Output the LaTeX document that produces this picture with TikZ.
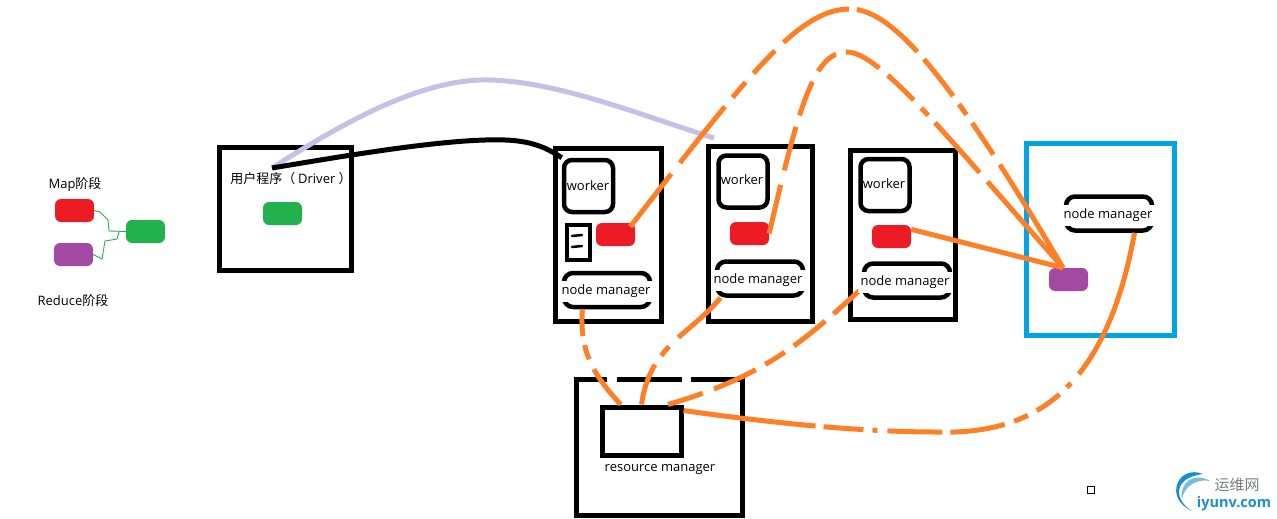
\documentclass[tikz,border=0pt]{standalone}
\usepackage{fontspec}
\setmainfont{Open Sans}
\newfontfamily\cjkfont{Noto Sans CJK SC}
\usetikzlibrary{positioning,calc}
\definecolor{mapred}{RGB}{237,28,36}
\definecolor{reducepurple}{RGB}{163,73,164}
\definecolor{drivergreen}{RGB}{34,177,76}
\definecolor{linkorange}{RGB}{255,127,39}
\definecolor{hostblue}{RGB}{0,162,232}
\definecolor{softlilac}{RGB}{200,191,231}
\definecolor{logoblue}{RGB}{27,143,201}
\definecolor{logogrey}{RGB}{120,125,130}
\tikzset{
    hostbox/.style={draw, rectangle, line width=5pt, inner sep=0pt},
    workerbox/.style={draw, rectangle, rounded corners=8pt, line width=4.5pt, minimum width=49pt, minimum height=52pt, inner sep=0pt},
    nmframe/.style={draw, rectangle, rounded corners=9pt, line width=4.5pt, minimum width=86pt, minimum height=34pt, inner sep=0pt},
    nmlabel/.style={fill=white, inner sep=0pt, minimum width=95pt, minimum height=21pt, font=\fontsize{13}{15}\selectfont},
    plainlabel/.style={inner sep=0pt, font=\fontsize{13}{15}\selectfont},
    task/.style={rectangle, rounded corners=6pt, minimum width=39pt, minimum height=23pt, inner sep=0pt},
    link/.style={linkorange, line width=5pt},
    wire/.style={drivergreen, line width=0.9pt}
}
\begin{document}
\begin{tikzpicture}[x=1pt, y=-1pt]
    \useasboundingbox (0,0) rectangle (1277,519);
    % legend
    \node[plainlabel] (maplabel) at (75,184.5) {Map\cjkfont 阶段};
    \node[task, fill=mapred] (legendmap) at (74.5,210.5) {};
    \node[task, fill=reducepurple] (legendreduce) at (73.5,254.5) {};
    \node[task, fill=drivergreen] (legenddriver) at (145.5,231.5) {};
    \node[plainlabel] (reducelabel) at (73,301) {Reduce\cjkfont 阶段};
    \coordinate (wirejoin) at (119,232);
    \draw[wire] (legendmap.east) -- (100,212) -- (108,220) -- (109,231) -- (legenddriver.west);
    \draw[wire] (legendreduce.east) -- (102,259) -- (105,241) -- (117,239) -- (wirejoin);

    % driver
    \node[hostbox, minimum width=132pt, minimum height=123pt] (driver) at (285,208.5) {};
    \node[plainlabel] (driverlabel) at (291,179) {\cjkfont 用户程序（ \normalfont Driver \cjkfont ）};
    \node[task, fill=drivergreen] (drivertask) at (282.5,213.5) {};
    \coordinate (driverhook) at (272,168);
    \coordinate (lilacend) at (714,138);

    % hosts
    \node[hostbox, minimum width=106pt, minimum height=173pt] (hostA) at (608,235) {};
    \node[hostbox, minimum width=104pt, minimum height=175pt] (hostB) at (760,233.5) {};
    \node[hostbox, minimum width=105pt, minimum height=169pt] (hostC) at (902.5,234.5) {};
    \node[hostbox, draw=hostblue, minimum width=148pt, minimum height=192pt] (hostD) at (1100,239) {};
    \node[workerbox] (workerA) at (588.5,186) {};
    \node[workerbox] (workerB) at (743,181.5) {};
    \node[workerbox] (workerC) at (885,185) {};
    \node[draw, rectangle, line width=4pt, minimum width=23pt, minimum height=35pt, inner sep=0pt] (spill) at (578.5,242.5) {};
    \node[task, fill=mapred] (redA) at (615.5,234.5) {};
    \node[task, fill=mapred] (redB) at (749.5,233.5) {};
    \node[task, fill=mapred] (redC) at (891.5,236.5) {};
    \node[task, fill=reducepurple] (reducetask) at (1068.5,279.5) {};
    \node[nmframe] (nmA) at (607,290) {};
    \node[nmframe] (nmB) at (760,278.5) {};
    \node[nmframe] (nmC) at (907,280.5) {};
    \node[nmframe] (nmD) at (1109,213.5) {};

    % resource manager
    \node[hostbox, minimum width=166pt, minimum height=136pt] (rmhost) at (659,447) {};
    \fill[white] (607,372) rectangle (617,384);
    \fill[white] (682,372) rectangle (691,384);
    \node[hostbox, minimum width=79pt, minimum height=48pt] (rm) at (641.5,431) {};
    \node[plainlabel] (rmlabel) at (660,469.5) {resource manager};

    \draw[line width=2.5pt, line cap=round] (572,236) -- (582,235);
    \draw[line width=2.5pt, line cap=round] (572,247) -- (582,246);

    % driver links
    \draw[softlilac, line width=5pt] (driverhook) .. controls (340,125) and (420,78) .. (490,80) .. controls (560,82) and (640,115) .. (lilacend);
    \draw[black, line width=5pt] (driverhook) .. controls (350,155) and (450,138) .. (505,140) .. controls (535,141) and (550,150) .. (workerA.north west);

    % task links
    \draw[link, dash pattern=on 67pt off 14pt on 72pt off 12pt on 20pt off 12pt on 31pt off 12pt on 75pt off 8pt on 75pt off 10pt on 47pt off 10pt on 13pt off 10pt on 38pt off 12pt on 200pt off 10pt] ([xshift=-5pt,yshift=-4pt]redA.north east) .. controls (753,68) and (800,9) .. (850,9) .. controls (895,9) and (955,85) .. (reducetask.115);
    \draw[link, dash pattern=on 50pt off 15pt on 45pt off 12pt on 36pt off 12pt on 25pt off 10pt on 38pt off 11pt on 36pt off 11pt on 10pt off 10pt on 67pt off 12pt on 200pt off 10pt] (redB.east) .. controls (800,100) and (815,52) .. (847,52) .. controls (880,52) and (950,140) .. (reducetask.115);
    \draw[link] (redC.20) -- (reducetask.115);

    % manager links
    \draw[link, dash pattern=on 27pt off 9pt on 15pt off 11pt on 200pt off 10pt] (nmA.218) .. controls (580,345) and (588,370) .. (rm.128);
    \draw[link, dash pattern=on 58pt off 13pt on 12pt off 11pt on 200pt off 10pt] (nmB.206) .. controls (690,335) and (650,345) .. (rm.north);
    \draw[link, dash pattern=on 38pt off 11pt on 40pt off 11pt on 23pt off 11pt on 46pt off 12pt on 200pt off 10pt] (nmC.190) .. controls (810,335) and (770,375) .. (rm.45);
    \draw[link, dash pattern=on 133pt off 8pt on 40pt off 9pt on 5pt off 10pt on 55pt off 8pt on 55pt off 10pt on 15pt off 10pt on 28pt off 10pt on 6pt off 12pt on 400pt off 10pt] (rm.26) .. controls (800,427) and (880,432) .. (936,432) .. controls (1030,435) and (1105,395) .. (nmD.323);

    % labels on top
    \node[plainlabel] (workerAlabel) at (588,185.5) {worker};
    \node[plainlabel] (workerBlabel) at (742,180) {worker};
    \node[plainlabel] (workerClabel) at (884,183.5) {worker};
    \node[nmlabel] (nmAlabel) at (606,291.5) {node manager};
    \node[nmlabel] (nmBlabel) at (758,280.5) {node manager};
    \node[nmlabel] (nmClabel) at (905,282.5) {node manager};
    \node[nmlabel] (nmDlabel) at (1108,215.5) {node manager};

    % marker and logo
    \node[draw, rectangle, line width=1pt, minimum width=7pt, minimum height=7pt, inner sep=0pt] (marker) at (1091,490) {};
    \fill[logoblue] (1203,474) .. controls (1178,464) and (1163,498) .. (1192,511) .. controls (1174,500) and (1172,478) .. (1203,474) -- cycle;
    \fill[logoblue!60] (1210,481) .. controls (1193,471) and (1179,484) .. (1182,499) .. controls (1184,487) and (1196,478) .. (1210,481) -- cycle;
    \node[text=logogrey, inner sep=0pt, font=\cjkfont\fontsize{15}{17}\selectfont] (logotop) at (1237,485) {运维网};
    \node[text=logoblue, inner sep=0pt, font=\bfseries\fontsize{14.5}{17}\selectfont] (logobottom) at (1234,504) {iyunv.com};
\end{tikzpicture}
\end{document}
